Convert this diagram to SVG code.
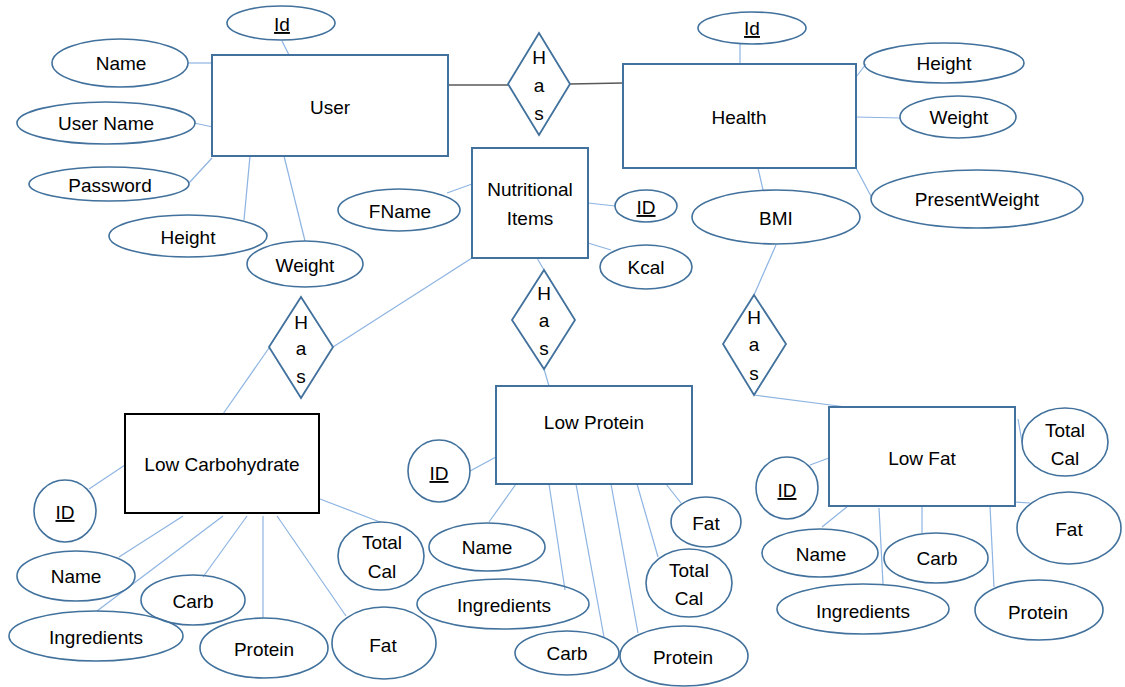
<svg xmlns="http://www.w3.org/2000/svg" width="1125" height="687" viewBox="0 0 1125 687">
<style>
text{font-family:"Liberation Sans",Arial,sans-serif;font-size:19px;fill:#000;text-anchor:middle}
.u{text-decoration:underline}
.e{fill:none;stroke:#41719C;stroke-width:1.6}
.r{fill:#fff;stroke:#41719C;stroke-width:2}
.rb{fill:#fff;stroke:#000;stroke-width:2}
.d{fill:#fff;stroke:#41719C;stroke-width:1.8}
.c{stroke:#8DB4E2;stroke-width:1.2;fill:none}
.g{stroke:#595959;stroke-width:1.5;fill:none}
</style>
<rect width="1125" height="687" fill="#fff"/>
<g id="connectors">
<line class="g" x1="448" y1="85" x2="508" y2="85"/>
<line class="g" x1="570" y1="84" x2="623" y2="83"/>
<line class="c" x1="282" y1="41" x2="289" y2="55"/>
<line class="c" x1="188" y1="63" x2="212" y2="63"/>
<line class="c" x1="194" y1="123" x2="213" y2="127"/>
<line class="c" x1="189" y1="183" x2="212" y2="158"/>
<line class="c" x1="244" y1="220" x2="250" y2="156"/>
<line class="c" x1="305" y1="241" x2="284" y2="156"/>
<line class="c" x1="447" y1="193" x2="472" y2="184"/>
<line class="c" x1="740" y1="44" x2="740" y2="64"/>
<line class="c" x1="856" y1="77" x2="866" y2="64"/>
<line class="c" x1="856" y1="117" x2="900" y2="118"/>
<line class="c" x1="856" y1="168" x2="872" y2="198"/>
<line class="c" x1="758" y1="168" x2="763" y2="190"/>
<line class="c" x1="776" y1="245" x2="754" y2="295"/>
<line class="c" x1="588" y1="203" x2="615" y2="206"/>
<line class="c" x1="588" y1="243" x2="611" y2="250"/>
<line class="c" x1="472" y1="258" x2="333" y2="347"/>
<line class="c" x1="537" y1="258" x2="544" y2="270"/>
<line class="c" x1="269" y1="348" x2="223" y2="414"/>
<line class="c" x1="89" y1="489" x2="125" y2="465"/>
<line class="c" x1="119" y1="557" x2="183" y2="516"/>
<line class="c" x1="203" y1="577" x2="247" y2="516"/>
<line class="c" x1="97" y1="611" x2="223" y2="516"/>
<line class="c" x1="263" y1="618" x2="263" y2="516"/>
<line class="c" x1="346" y1="616" x2="277" y2="516"/>
<line class="c" x1="320" y1="499" x2="380" y2="522"/>
<line class="c" x1="544" y1="369" x2="549" y2="386"/>
<line class="c" x1="470" y1="471" x2="496" y2="457"/>
<line class="c" x1="489" y1="522" x2="516" y2="484"/>
<line class="c" x1="549" y1="484" x2="565" y2="590"/>
<line class="c" x1="576" y1="484" x2="604" y2="637"/>
<line class="c" x1="611" y1="484" x2="638" y2="633"/>
<line class="c" x1="637" y1="484" x2="658" y2="557"/>
<line class="c" x1="666" y1="484" x2="681" y2="503"/>
<line class="c" x1="754" y1="395" x2="846" y2="407"/>
<line class="c" x1="810" y1="465" x2="829" y2="458"/>
<line class="c" x1="822" y1="527" x2="848" y2="506"/>
<line class="c" x1="883" y1="584" x2="879" y2="508"/>
<line class="c" x1="922" y1="533" x2="922" y2="506"/>
<line class="c" x1="994" y1="587" x2="990" y2="506"/>
<line class="c" x1="1015" y1="502" x2="1030" y2="503"/>
<line class="c" x1="1018" y1="419" x2="1022" y2="442"/>
</g>
<g id="user"><rect class="r" x="212" y="55" width="236" height="101"/><text x="330" y="114">User</text></g>
<g id="user-id"><ellipse class="e" cx="281" cy="23" rx="54" ry="17"/><text class="u" x="282" y="31">Id</text></g>
<g id="user-name"><ellipse class="e" cx="120" cy="63" rx="68" ry="24"/><text x="121" y="70">Name</text></g>
<g id="user-username"><ellipse class="e" cx="106" cy="123" rx="89" ry="21"/><text x="106" y="130">User Name</text></g>
<g id="user-password"><ellipse class="e" cx="109" cy="184" rx="80" ry="17"/><text x="110" y="192">Password</text></g>
<g id="user-height"><ellipse class="e" cx="188" cy="236" rx="79" ry="21"/><text x="188" y="244">Height</text></g>
<g id="user-weight"><ellipse class="e" cx="305" cy="264" rx="58" ry="23"/><text x="305" y="272">Weight</text></g>
<g id="has-user-health"><polygon class="d" points="539,33 570,84 539,135 508,84"/><text x="539" y="64">H</text><text x="539" y="92">a</text><text x="539" y="120">s</text></g>
<g id="health"><rect class="r" x="623" y="64" width="233" height="104"/><text x="739" y="124">Health</text></g>
<g id="health-id"><ellipse class="e" cx="752" cy="28" rx="54" ry="16"/><text class="u" x="752" y="35">Id</text></g>
<g id="health-height"><ellipse class="e" cx="944" cy="63" rx="80" ry="20"/><text x="944" y="70">Height</text></g>
<g id="health-weight"><ellipse class="e" cx="958" cy="117" rx="58" ry="21"/><text x="959" y="124">Weight</text></g>
<g id="health-presentweight"><ellipse class="e" cx="977" cy="199" rx="106" ry="29"/><text x="977" y="206">PresentWeight</text></g>
<g id="health-bmi"><ellipse class="e" cx="776" cy="217" rx="84" ry="27"/><text x="776" y="225">BMI</text></g>
<g id="nutritional-items"><rect class="r" x="472" y="148" width="116" height="110"/><text x="530" y="196">Nutritional</text><text x="530" y="225">Items</text></g>
<g id="ni-fname"><ellipse class="e" cx="399" cy="210" rx="61" ry="21"/><text x="400" y="218">FName</text></g>
<g id="ni-id"><ellipse class="e" cx="646" cy="206" rx="31" ry="16"/><text class="u" x="646" y="214">ID</text></g>
<g id="ni-kcal"><ellipse class="e" cx="646" cy="267" rx="46" ry="22"/><text x="646" y="274">Kcal</text></g>
<g id="has-ni-lowcarb"><polygon class="d" points="301,297 333,347 301,398 269,347"/><text x="301" y="329">H</text><text x="301" y="355">a</text><text x="301" y="383">s</text></g>
<g id="has-ni-lowprotein"><polygon class="d" points="544,270 575,320 544,369 512,320"/><text x="544" y="300">H</text><text x="544" y="327">a</text><text x="544" y="355">s</text></g>
<g id="has-bmi-lowfat"><polygon class="d" points="754,295 786,344 754,395 723,344"/><text x="754" y="324">H</text><text x="754" y="351">a</text><text x="754" y="380">s</text></g>
<g id="low-carbohydrate"><rect class="rb" x="125" y="414" width="194" height="99"/><text x="222" y="471">Low Carbohydrate</text></g>
<g id="lc-id"><ellipse class="e" cx="65" cy="511" rx="31" ry="31"/><text class="u" x="65" y="519">ID</text></g>
<g id="lc-name"><ellipse class="e" cx="76" cy="576" rx="59" ry="25"/><text x="76" y="583">Name</text></g>
<g id="lc-carb"><ellipse class="e" cx="193" cy="600" rx="52" ry="25"/><text x="193" y="608">Carb</text></g>
<g id="lc-ingredients"><ellipse class="e" cx="96" cy="636" rx="87" ry="25"/><text x="96" y="644">Ingredients</text></g>
<g id="lc-protein"><ellipse class="e" cx="264" cy="648" rx="64" ry="30"/><text x="264" y="656">Protein</text></g>
<g id="lc-fat"><ellipse class="e" cx="384" cy="643" rx="52" ry="36"/><text x="383" y="652">Fat</text></g>
<g id="lc-totalcal"><ellipse class="e" cx="381" cy="556" rx="43" ry="34"/><text x="382" y="549">Total</text><text x="382" y="578">Cal</text></g>
<g id="low-protein"><rect class="r" x="496" y="386" width="196" height="98"/><text x="594" y="429">Low Protein</text></g>
<g id="lp-id"><ellipse class="e" cx="439" cy="471" rx="31" ry="31"/><text class="u" x="439" y="480">ID</text></g>
<g id="lp-name"><ellipse class="e" cx="487" cy="547" rx="58" ry="24"/><text x="487" y="554">Name</text></g>
<g id="lp-ingredients"><ellipse class="e" cx="503" cy="604" rx="86" ry="25"/><text x="504" y="612">Ingredients</text></g>
<g id="lp-carb"><ellipse class="e" cx="567" cy="653" rx="52" ry="22"/><text x="567" y="660">Carb</text></g>
<g id="lp-protein"><ellipse class="e" cx="684" cy="656" rx="64" ry="30"/><text x="683" y="664">Protein</text></g>
<g id="lp-totalcal"><ellipse class="e" cx="689" cy="583" rx="43" ry="34"/><text x="689" y="577">Total</text><text x="689" y="605">Cal</text></g>
<g id="lp-fat"><ellipse class="e" cx="706" cy="522" rx="35" ry="25"/><text x="706" y="530">Fat</text></g>
<g id="low-fat"><rect class="r" x="829" y="407" width="186" height="99"/><text x="922" y="465">Low Fat</text></g>
<g id="lf-id"><ellipse class="e" cx="787" cy="488" rx="31" ry="31"/><text class="u" x="787" y="497">ID</text></g>
<g id="lf-name"><ellipse class="e" cx="820" cy="553" rx="58" ry="24"/><text x="821" y="561">Name</text></g>
<g id="lf-carb"><ellipse class="e" cx="936" cy="558" rx="52" ry="25"/><text x="937" y="565">Carb</text></g>
<g id="lf-ingredients"><ellipse class="e" cx="863" cy="609" rx="86" ry="25"/><text x="863" y="618">Ingredients</text></g>
<g id="lf-protein"><ellipse class="e" cx="1039" cy="610" rx="64" ry="30"/><text x="1038" y="619">Protein</text></g>
<g id="lf-fat"><ellipse class="e" cx="1069" cy="528" rx="52" ry="36"/><text x="1069" y="536">Fat</text></g>
<g id="lf-totalcal"><ellipse class="e" cx="1065" cy="442" rx="43" ry="34"/><text x="1065" y="437">Total</text><text x="1065" y="465">Cal</text></g>
</svg>
